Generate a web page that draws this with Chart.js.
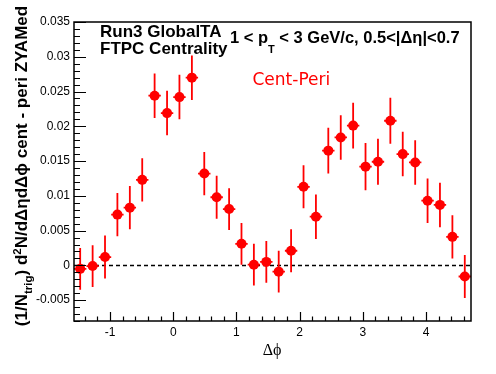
<!DOCTYPE html>
<html>
<head>
<meta charset="utf-8">
<script src="https://cdn.jsdelivr.net/npm/chart.js@4/dist/chart.umd.min.js"></script>
<style>
html, body { margin: 0; padding: 0; background: #fff; }
#wrap { width: 496px; height: 374px; }
</style>
</head>
<body>
<div id="wrap"><canvas id="chart" width="496" height="374"></canvas></div>
<script>
// bin centres in delta phi (32 bins from -pi/2 to 3pi/2)
const dphi = [-1.473, -1.276, -1.080, -0.884, -0.687, -0.491, -0.295, -0.098,
               0.098,  0.295,  0.491,  0.687,  0.884,  1.080,  1.276,  1.473,
               1.669,  1.865,  2.062,  2.258,  2.454,  2.651,  2.847,  3.043,
               3.240,  3.436,  3.632,  3.829,  4.025,  4.221,  4.418,  4.614];
const yields = [-0.0005, -0.0001, 0.0012, 0.0073, 0.0083, 0.0123, 0.0244, 0.0219,
                 0.0242,  0.0270, 0.0132, 0.0098, 0.0081, 0.0031, 0.0001, 0.0005,
                -0.0009,  0.0021, 0.0113, 0.0070, 0.0165, 0.0184, 0.0201, 0.0142,
                 0.0149,  0.0208, 0.0160, 0.0148, 0.0093, 0.0087, 0.0041, -0.0016];
const yErr = [0.0030, 0.0030, 0.0031, 0.0031, 0.0031, 0.0031, 0.0032, 0.0032,
              0.0032, 0.0032, 0.0031, 0.0031, 0.0030, 0.0030, 0.0030, 0.0030,
              0.0030, 0.0031, 0.0031, 0.0032, 0.0033, 0.0032, 0.0033, 0.0034,
              0.0033, 0.0033, 0.0032, 0.0032, 0.0032, 0.0032, 0.0031, 0.0031];
const binHalfWidth = 0.098;

const xTicks = [-1, 0, 1, 2, 3, 4];
const yTicks = [-0.005, 0, 0.005, 0.01, 0.015, 0.02, 0.025, 0.03, 0.035];
const yTickLabels = ['-0.005', '0', '0.005', '0.01', '0.015', '0.02', '0.025', '0.03', '0.035'];

const RED = '#ff0000';
const SANS = '"Liberation Sans", "DejaVu Sans", sans-serif';

// draw a list of text pieces one after the other (sub/superscripts)
function drawPieces(ctx, pieces, x, y) {
    let cx = x;
    pieces.forEach(p => {
        ctx.font = p.font;
        ctx.fillText(p.t, cx, y + (p.dy || 0));
        cx += ctx.measureText(p.t).width;
    });
}
function piecesWidth(ctx, pieces) {
    let w = 0;
    pieces.forEach(p => { ctx.font = p.font; w += ctx.measureText(p.t).width; });
    return w;
}

const rootStyle = {
    id: 'rootStyle',
    beforeDatasetsDraw(chart) {
        const ctx = chart.ctx;
        const xs = chart.scales.x, ys = chart.scales.y;
        const a = chart.chartArea;
        ctx.save();
        // dashed zero line
        ctx.strokeStyle = '#000';
        ctx.lineWidth = 1.3;
        ctx.setLineDash([4, 3]);
        const y0 = Math.round(ys.getPixelForValue(0)) + 0.5;
        ctx.beginPath();
        ctx.moveTo(a.left, y0);
        ctx.lineTo(a.right, y0);
        ctx.stroke();
        ctx.setLineDash([]);
        // error bars
        ctx.strokeStyle = RED;
        ctx.lineWidth = 1.8;
        dphi.forEach((x, i) => {
            const px = xs.getPixelForValue(x);
            const py = ys.getPixelForValue(yields[i]);
            ctx.beginPath();
            ctx.moveTo(px, ys.getPixelForValue(yields[i] - yErr[i]));
            ctx.lineTo(px, ys.getPixelForValue(yields[i] + yErr[i]));
            ctx.moveTo(xs.getPixelForValue(x - binHalfWidth), py);
            ctx.lineTo(xs.getPixelForValue(x + binHalfWidth), py);
            ctx.stroke();
        });
        ctx.restore();
    },
    afterDraw(chart) {
        const ctx = chart.ctx;
        const xs = chart.scales.x, ys = chart.scales.y;
        const a = chart.chartArea;
        ctx.save();
        // frame
        ctx.strokeStyle = '#000';
        ctx.lineWidth = 1.5;
        ctx.strokeRect(a.left, a.top, a.right - a.left, a.bottom - a.top);
        // y ticks (inside)
        ctx.lineWidth = 1.2;
        ctx.beginPath();
        for (let k = -8; k <= 35; k++) {
            const v = k / 1000;
            const py = Math.round(ys.getPixelForValue(v)) + 0.5;
            const len = (k % 5 === 0) ? 12 : 6;
            ctx.moveTo(a.left, py);
            ctx.lineTo(a.left + len, py);
        }
        // x ticks (inside)
        for (let k = -7; k <= 23; k++) {
            const v = k / 5;
            const px = Math.round(xs.getPixelForValue(v)) + 0.5;
            const len = (k % 5 === 0) ? 9 : 4.5;
            ctx.moveTo(px, a.bottom);
            ctx.lineTo(px, a.bottom - len);
        }
        ctx.stroke();

        ctx.fillStyle = '#000';
        ctx.textBaseline = 'alphabetic';
        // header text
        ctx.font = 'bold 17px ' + SANS;
        ctx.fillText('Run3 GlobalTA', 100, 37);
        ctx.fillText('FTPC Centrality', 100, 53.5);
        drawPieces(ctx, [
            { t: '1 < p', font: 'bold 16.5px ' + SANS },
            { t: 'T', font: 'bold 11px ' + SANS, dy: 10 },
            { t: ' < 3 GeV/c, 0.5<|\u0394\u03b7|<0.7', font: 'bold 16.5px ' + SANS }
        ], 230, 43);
        ctx.fillStyle = RED;
        ctx.font = '17px "DejaVu Sans", sans-serif';
        ctx.fillText('Cent-Peri', 252.5, 85);

        // x title
        ctx.fillStyle = '#000';
        ctx.font = '16px "Liberation Serif", serif';
        ctx.textAlign = 'center';
        ctx.fillText('\u0394\u03d5', 272, 355);
        ctx.textAlign = 'left';

        // y title (rotated)
        const yt = [
            { t: '(1/N', font: 'bold 17px ' + SANS },
            { t: 'trig', font: 'bold 11.5px ' + SANS, dy: 5 },
            { t: ') d', font: 'bold 17px ' + SANS },
            { t: '2', font: 'bold 11.5px ' + SANS, dy: -6 },
            { t: 'N/d\u0394\u03b7d\u0394\u03d5 cent - peri ZYAMed', font: 'bold 17px ' + SANS }
        ];
        ctx.translate(27, 166);
        ctx.rotate(-Math.PI / 2);
        drawPieces(ctx, yt, -piecesWidth(ctx, yt) / 2, 0);
        ctx.restore();
    }
};

new Chart(document.getElementById('chart'), {
    type: 'scatter',
    data: {
        datasets: [{
            data: dphi.map((x, i) => ({ x: x, y: yields[i] })),
            backgroundColor: RED,
            borderColor: RED,
            borderWidth: 0,
            pointRadius: 5,
            pointStyle: 'circle'
        }]
    },
    options: {
        responsive: false,
        animation: false,
        devicePixelRatio: 1,
        layout: { padding: { left: 0, top: 22, right: 25, bottom: 0 } },
        plugins: { legend: { display: false }, tooltip: { enabled: false } },
        scales: {
            x: {
                type: 'linear',
                min: -Math.PI / 2,
                max: 3 * Math.PI / 2,
                afterBuildTicks: s => { s.ticks = xTicks.map(v => ({ value: v })); },
                afterFit: s => { s.height = 53; },
                grid: { display: false, drawTicks: false },
                border: { display: false },
                ticks: {
                    color: '#000',
                    padding: 4,
                    maxRotation: 0,
                    font: { family: SANS, size: 12 },
                    callback: v => String(v)
                }
            },
            y: {
                type: 'linear',
                min: -0.008,
                max: 0.035,
                afterBuildTicks: s => { s.ticks = yTicks.map(v => ({ value: v })); },
                afterFit: s => { s.width = 74; },
                grid: { display: false, drawTicks: false },
                border: { display: false },
                ticks: {
                    color: '#000',
                    padding: 4,
                    font: { family: SANS, size: 12 },
                    callback: (v, i) => yTickLabels[i]
                }
            }
        }
    },
    plugins: [rootStyle]
});
</script>
</body>
</html>
